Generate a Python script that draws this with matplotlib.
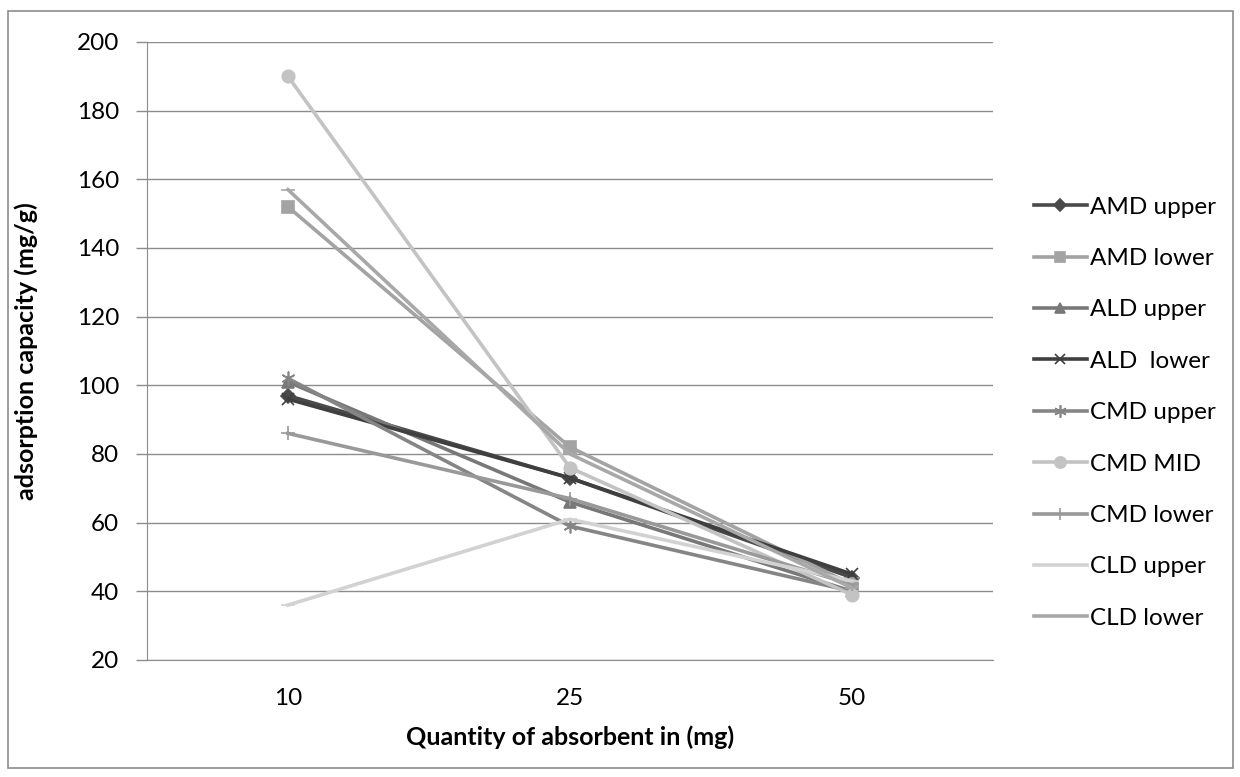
import numpy as np
import matplotlib.pyplot as plt
from matplotlib.patches import Rectangle

plt.rcParams['font.family'] = ['Lato', 'DejaVu Sans']

# data
quantities = ['10', '25', '50']
amd_upper = [97, 73, 44]
amd_lower = [152, 82, 42]
ald_upper = [101, 66, 40]
ald_lower = [96, 73, 45]
cmd_upper = [102, 59, 40]
cmd_mid = [190, 76, 39]
cmd_lower = [86, 67, 42]
cld_upper = [36, 61, 43]
cld_lower = [157, 80, 41]

series = [
    ('AMD upper', amd_upper, '#4a4a4a', 'D', 7),
    ('AMD lower', amd_lower, '#a3a3a3', 's', 8),
    ('ALD upper', ald_upper, '#787878', '^', 8),
    ('ALD  lower', ald_lower, '#3f3f3f', 'x', 8),
    ('CMD upper', cmd_upper, '#858585', (6, 2, 0), 10),
    ('CMD MID', cmd_mid, '#c3c3c3', 'o', 9),
    ('CMD lower', cmd_lower, '#999999', '+', 10),
    ('CLD upper', cld_upper, '#d2d2d2', '_', 10),
    ('CLD lower', cld_lower, '#a8a8a8', '_', 10),
]

fig = plt.figure(figsize=(12.4, 7.77), dpi=100)
ax = fig.add_axes([0.1185, 0.1506, 0.6823, 0.7954])

x = np.arange(len(quantities))
for name, vals, col, mk, ms in series:
    ax.plot(x, vals, color=col, lw=2.6, marker=mk, ms=ms, mec=col, mfc=col,
            mew=1.2, label=name)

ax.set_xlim(-0.5, 2.5)
ax.set_ylim(20, 200)
ax.set_yticks(np.arange(20, 201, 20))
ax.set_xticks(x)
ax.set_xticklabels(quantities)
ax.yaxis.grid(True, color='#8c8c8c', lw=1.0)
ax.set_axisbelow(True)
ax.tick_params(axis='x', length=0, pad=20, labelsize=17.5)
ax.tick_params(axis='y', length=8, width=1, color='#8c8c8c', pad=12, labelsize=17.5)
for s in ['top', 'right']:
    ax.spines[s].set_visible(False)
ax.spines['left'].set_color('#8c8c8c')
ax.spines['bottom'].set_color('#8c8c8c')

ax.set_xlabel('Quantity of absorbent in (mg)', fontsize=18, fontweight='bold', labelpad=12)
ax.set_ylabel('adsorption capacity (mg/g)', fontsize=18, fontweight='bold', labelpad=28)

ax.legend(loc='center left', bbox_to_anchor=(1.023, 0.40), frameon=False,
          fontsize=17.5, handlelength=2.15, labelspacing=1.25, handletextpad=0.15,
          markerscale=0.9)

fig.patches.append(Rectangle((0.0065, 0.012), 0.988, 0.974, transform=fig.transFigure,
                             fill=False, edgecolor='#8c8c8c', lw=1.2))

fig.savefig('out.png', dpi=100)
